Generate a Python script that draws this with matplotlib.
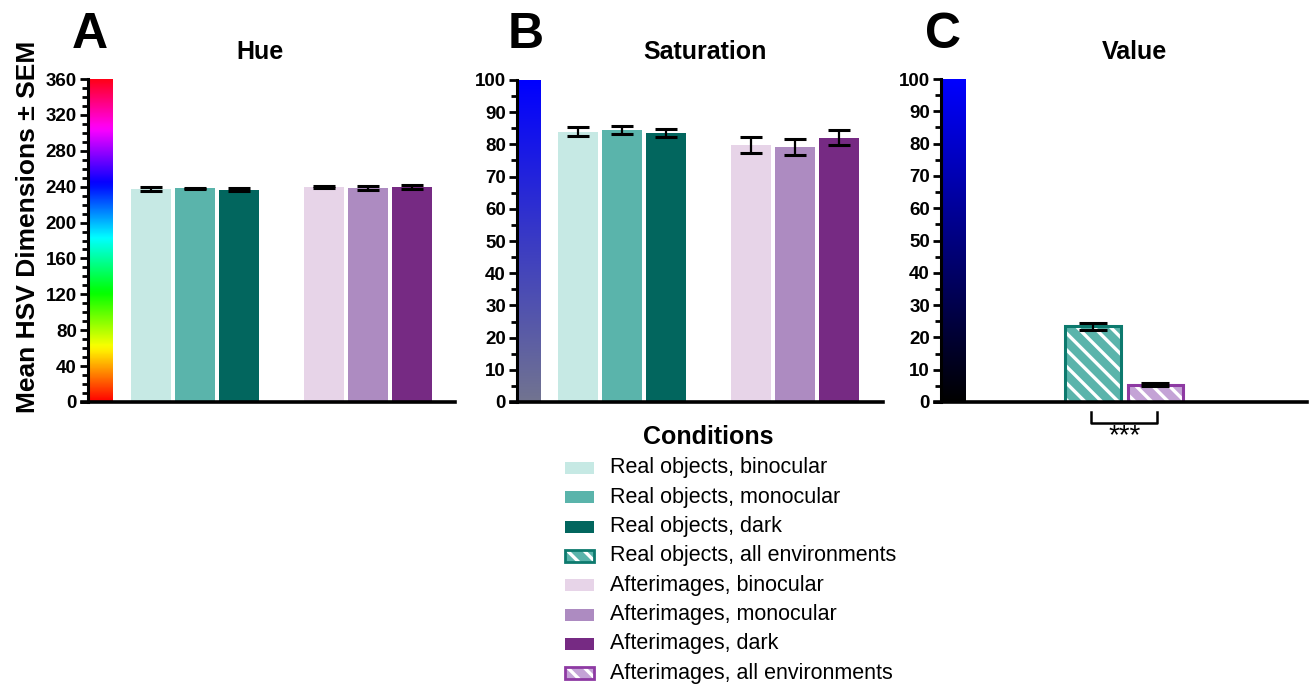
import numpy as np
import matplotlib
matplotlib.use("Agg")
import matplotlib.pyplot as plt
from matplotlib.colors import LinearSegmentedColormap
from matplotlib.patches import Rectangle

plt.rcParams['font.family'] = ['Liberation Sans', 'DejaVu Sans']
plt.rcParams['hatch.linewidth'] = 2.4

# ---------------- data ----------------
conditions = ["Real objects, binocular", "Real objects, monocular", "Real objects, dark",
              "Real objects, all environments",
              "Afterimages, binocular", "Afterimages, monocular", "Afterimages, dark",
              "Afterimages, all environments"]
hue_means = [237.0, 238.0, 236.7, 239.3, 238.0, 239.5]
hue_sem = [2.2, 1.0, 1.3, 1.2, 2.2, 2.2]
sat_means = [84.0, 84.4, 83.6, 79.8, 79.3, 82.1]
sat_sem = [1.4, 1.3, 1.2, 2.5, 2.5, 2.3]
val_means = [23.4, 5.4]
val_sem = [1.2, 0.5]
significance = "***"

# ---------------- style ----------------
colors6 = ["#c6e9e4", "#5ab4ab", "#02665e", "#e7d4e8", "#ad8bc1", "#762a83"]
hatch_face = ["#5ab4ab", "#c4a3d6"]
hatch_edge = ["#0d7a6e", "#8e3aa3"]
legend_colors = ["#c6e9e4", "#5ab4ab", "#02665e", None, "#e7d4e8", "#ad8bc1", "#762a83", None]

W, H = 1311, 686
fig = plt.figure(figsize=(W / 100, H / 100), dpi=100)


def px_axes(x0, x1, ytop, ybot):
    return fig.add_axes([x0 / W, 1 - ybot / H, (x1 - x0) / W, (ybot - ytop) / H])


def style_axis(ax, ymax, major, minor, xmax):
    for s in ["top", "right"]:
        ax.spines[s].set_visible(False)
    ax.spines["left"].set_linewidth(2.2)
    ax.spines["bottom"].set_linewidth(2.6)
    ax.set_xlim(0, xmax)
    ax.spines["bottom"].set_bounds(-0.15, xmax)
    ax.set_ylim(0, ymax)
    ax.set_yticks(np.arange(0, ymax + 1, major))
    ax.set_yticks(np.arange(0, ymax + 1, minor), minor=True)
    ax.tick_params(axis="y", which="major", length=6, width=2, labelsize=13.5, pad=2)
    ax.tick_params(axis="y", which="minor", length=4, width=2)
    ax.set_xticks([])
    for lab in ax.get_yticklabels():
        lab.set_fontweight("bold")


unit = 40.0  # pixels per bar-width unit
bar_pos = np.array([1.575, 2.675, 3.775, 5.9, 7.0, 8.1])
grad = np.linspace(0, 1, 256).reshape(-1, 1)

# ---- Panel A: Hue ----
axA = px_axes(88, 455, 79, 402)
axA.imshow(grad, cmap="hsv", aspect="auto", origin="lower",
           extent=[0.03, 0.62, 0, 360], zorder=1)
axA.bar(bar_pos, hue_means, width=1.0, color=colors6, zorder=2)
axA.errorbar(bar_pos, hue_means, yerr=hue_sem, fmt="none", ecolor="black",
             elinewidth=1.6, capsize=8, capthick=2.2, zorder=3)
style_axis(axA, 360, 40, 10, 367 / unit)

# ---- Panel B: Saturation ----
axB = px_axes(517, 883, 80, 402)
satmap = LinearSegmentedColormap.from_list("sat", ["#727490", "#3a3bc4", "#0000ff"])
axB.imshow(grad, cmap=satmap, aspect="auto", origin="lower",
           extent=[0.03, 0.6, 0, 100], zorder=1)
bpos = bar_pos - 0.05
axB.bar(bpos, sat_means, width=1.0, color=colors6, zorder=2)
axB.errorbar(bpos, sat_means, yerr=sat_sem, fmt="none", ecolor="black",
             elinewidth=1.6, capsize=8, capthick=2.2, zorder=3)
style_axis(axB, 100, 10, 5, 366 / unit)

# ---- Panel C: Value ----
axC = px_axes(941, 1307, 79, 402)
valmap = LinearSegmentedColormap.from_list("val", ["#000000", "#0000ff"])
axC.imshow(grad, cmap=valmap, aspect="auto", origin="lower",
           extent=[0.03, 0.63, 0, 100], zorder=1)
cpos = np.array([3.8, 5.36])
axC.bar(cpos, val_means, width=1.38, color=hatch_face, edgecolor="white",
        linewidth=0, hatch="\\\\", zorder=2)
axC.bar(cpos, val_means, width=1.38, facecolor="none", edgecolor=hatch_edge,
        linewidth=2.2, zorder=2.5)
axC.errorbar(cpos, val_means, yerr=val_sem, fmt="none", ecolor="black",
             elinewidth=1.6, capsize=10, capthick=2.2, zorder=3)
style_axis(axC, 100, 10, 5, 366 / unit)
# significance bracket
ytop, ybot = -3.0, -6.5
axC.plot([cpos[0] - 0.04, cpos[0] - 0.04, cpos[1] + 0.04, cpos[1] + 0.04],
         [ytop, ybot, ybot, ytop], color="black", lw=1.8, clip_on=False)
axC.text((cpos[0] + cpos[1]) / 2, -6.6, significance, ha="center", va="top",
         fontsize=20, clip_on=False)

# ---- titles & labels ----
fig.text(260 / W, 1 - 52 / H, "Hue", ha="center", va="center", fontsize=18, fontweight="bold")
fig.text(705 / W, 1 - 52 / H, "Saturation", ha="center", va="center", fontsize=18, fontweight="bold")
fig.text(1134 / W, 1 - 52 / H, "Value", ha="center", va="center", fontsize=18, fontweight="bold")
fig.text(72 / W, 1 - 48 / H, "A", ha="left", va="baseline", fontsize=36, fontweight="bold")
fig.text(508 / W, 1 - 48 / H, "B", ha="left", va="baseline", fontsize=36, fontweight="bold")
fig.text(925 / W, 1 - 48 / H, "C", ha="left", va="baseline", fontsize=36, fontweight="bold")
fig.text(28 / W, 1 - 227 / H, "Mean HSV Dimensions \u00b1 SEM", rotation=90, ha="center",
         va="center", fontsize=19, fontweight="bold")

# ---- legend (manual) ----
fig.text(708 / W, 1 - 437 / H, "Conditions", ha="center", va="center", fontsize=18,
         fontweight="bold")
for i, lab in enumerate(conditions):
    yc = 468 + i * 29.3
    x0, w, h = 565, 29, 12
    col = legend_colors[i]
    if col is not None:
        fig.add_artist(Rectangle((x0 / W, 1 - (yc + h / 2) / H), w / W, h / H,
                                 transform=fig.transFigure, facecolor=col, edgecolor="none"))
    else:
        k = 0 if i == 3 else 1
        fig.add_artist(Rectangle((x0 / W, 1 - (yc + h / 2) / H), w / W, h / H,
                                 transform=fig.transFigure, facecolor=hatch_face[k],
                                 edgecolor="white", linewidth=0, hatch="\\\\"))
        fig.add_artist(Rectangle((x0 / W, 1 - (yc + h / 2) / H), w / W, h / H,
                                 transform=fig.transFigure, facecolor="none",
                                 edgecolor=hatch_edge[k], linewidth=2))
    fig.text(610 / W, 1 - yc / H, lab, ha="left", va="center", fontsize=15.5)

fig.savefig("out.png", dpi=100)
